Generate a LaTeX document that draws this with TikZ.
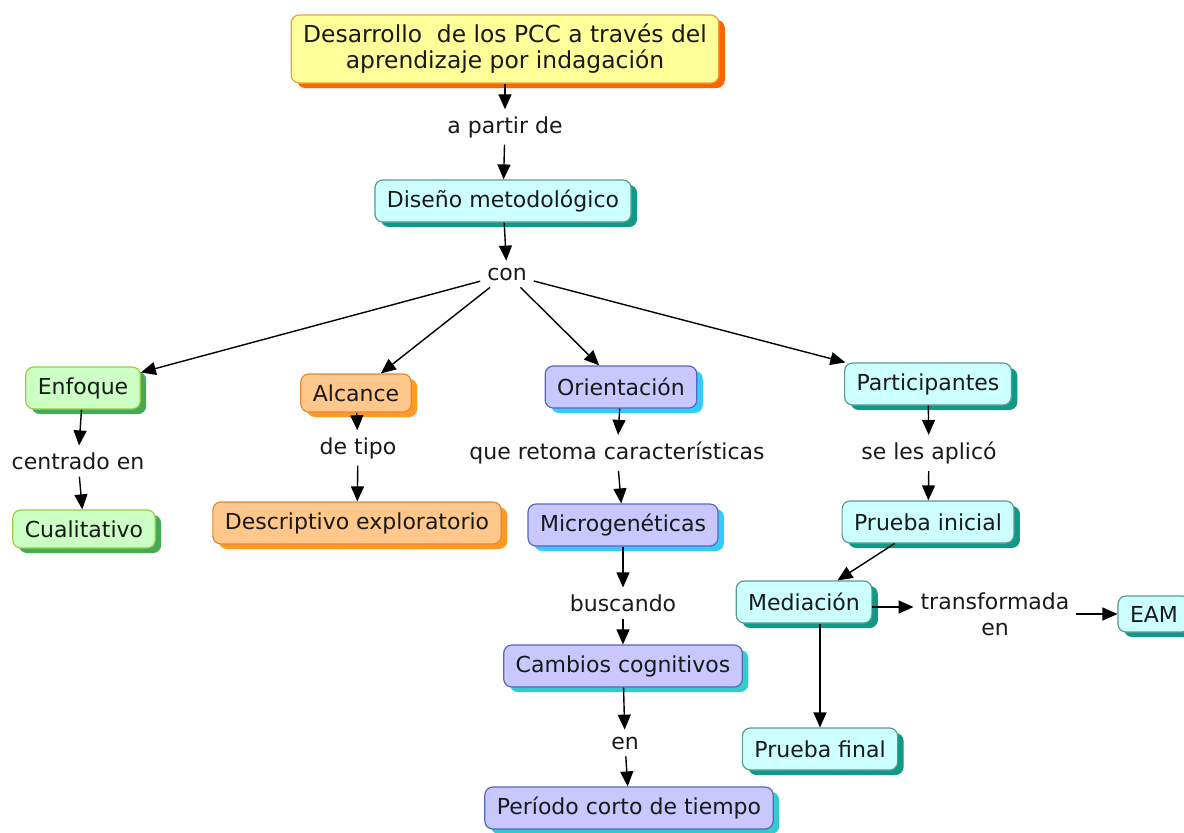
\documentclass[tikz,border=0pt]{standalone}
\usepackage{fontspec}
\setmainfont{DejaVu Sans}
\usetikzlibrary{arrows.meta,shadows}

\definecolor{yellowfill}{HTML}{FFFF99}
\definecolor{yellowline}{HTML}{E8A040}
\definecolor{yellowshade}{HTML}{FF6600}
\definecolor{cyanfill}{HTML}{CCFFFF}
\definecolor{cyanline}{HTML}{5A9A8C}
\definecolor{cyanshade}{HTML}{119988}
\definecolor{greenfill}{HTML}{CCFFC4}
\definecolor{greenline}{HTML}{99CC44}
\definecolor{greenshade}{HTML}{44AA55}
\definecolor{orangefill}{HTML}{FFC88A}
\definecolor{orangeline}{HTML}{E0883A}
\definecolor{orangeshade}{HTML}{FF9922}
\definecolor{lilacfill}{HTML}{C8C8FF}
\definecolor{lilacline}{HTML}{5566BB}
\definecolor{blueshade}{HTML}{33CCFF}
\definecolor{tealshade}{HTML}{33CCCC}

\begin{document}
\begin{tikzpicture}[x=0.5pt,y=-0.5pt,
  every node/.style={font=\fontsize{11}{13}\selectfont,text=black!90},
  box/.style={draw,rounded corners=4pt,line width=0.6pt,inner xsep=6pt,minimum height=21pt},
  yellowbox/.style={box,draw=yellowline,fill=yellowfill,drop shadow={shadow xshift=3pt,shadow yshift=-2.5pt,fill=yellowshade,opacity=1}},
  cyanbox/.style={box,draw=cyanline,fill=cyanfill,drop shadow={shadow xshift=3pt,shadow yshift=-2.5pt,fill=cyanshade,opacity=1}},
  greenbox/.style={box,draw=greenline,fill=greenfill,drop shadow={shadow xshift=3pt,shadow yshift=-2.5pt,fill=greenshade,opacity=1}},
  orangebox/.style={box,draw=orangeline,fill=orangefill,drop shadow={shadow xshift=3pt,shadow yshift=-2.5pt,fill=orangeshade,opacity=1}},
  lilacbox/.style={box,draw=lilacline,fill=lilacfill,drop shadow={shadow xshift=3pt,shadow yshift=-2.5pt,fill=#1,opacity=1}},
  arr/.style={-{Triangle[width=6.5pt,length=7.5pt]},line width=0.7pt}]

\useasboundingbox (0,0) rectangle (1184,832);

\node[yellowbox,align=center,minimum width=210pt,minimum height=34pt,font=\fontsize{11.7}{13}\selectfont] (titulo) at (505,49) {Desarrollo~ de los PCC a través del\\aprendizaje por indagación};
\node (apartir) at (505,127) {a partir de};
\node[cyanbox] (diseno) at (503,201) {Diseño metodológico};
\node (con) at (507,274) {con};

\node[greenbox] (enfoque) at (83,388) {Enfoque};
\node[orangebox,minimum height=19pt] (alcance) at (356,393) {Alcance};
\node[lilacbox=blueshade] (orientacion) at (621,387) {Orientación};
\node[cyanbox] (participantes) at (928,384) {Participantes};

\node (centrado) at (78,461) {centrado en};
\node (detipo) at (358,448) {de tipo};
\node (retoma) at (617,453) {que retoma características};
\node (aplico) at (929,453) {se les aplicó};

\node[greenbox,minimum height=19pt] (cualitativo) at (84,529) {Cualitativo};
\node[orangebox] (descriptivo) at (357,523) {Descriptivo exploratorio};
\node[lilacbox=blueshade] (micro) at (623,525) {Microgenéticas};
\node[cyanbox] (pinicial) at (928,522) {Prueba inicial};

\node (buscando) at (623,603) {buscando};
\node[cyanbox] (mediacion) at (804,602) {Mediación};
\node[align=center] (transf) at (995,614) {transformada\\en};
\node[cyanbox,minimum height=18pt] (eam) at (1154,614) {EAM};

\node[lilacbox=tealshade] (cambios) at (623,666) {Cambios cognitivos};
\node (en) at (625,743) {en};
\node[cyanbox] (pfinal) at (820,749) {Prueba final};
\node[lilacbox=tealshade] (periodo) at (629,808) {Período corto de tiempo};

\draw[arr] (titulo) -- (apartir);
\draw[arr] (apartir) -- (diseno);
\draw[arr] (diseno) -- (con);

\draw[arr] (con) -- (enfoque);
\draw[arr] (con) -- (alcance);
\draw[arr] (con) -- (orientacion);
\draw[arr] (con) -- (participantes);

\draw[arr] (enfoque) -- (centrado);
\draw[arr] (centrado) -- (cualitativo);
\draw[arr] (alcance) -- (detipo);
\draw[arr] (detipo) -- (descriptivo);
\draw[arr] (orientacion) -- (retoma);
\draw[arr] (retoma) -- (micro);
\draw[arr] (participantes) -- (aplico);
\draw[arr] (aplico) -- (pinicial);

\draw[arr] (pinicial) -- (mediacion);
\draw[arr] ([yshift=-2.5pt]mediacion.east) -- ([yshift=3.5pt]transf.west);
\draw[arr] (transf) -- (eam);
\draw[arr] (mediacion.south -| pfinal.north) -- (pfinal.north);

\draw[arr] (micro) -- (buscando);
\draw[arr] (buscando) -- (cambios);
\draw[arr] (cambios) -- (en);
\draw[arr] (en) -- (periodo);

\end{tikzpicture}
\end{document}
